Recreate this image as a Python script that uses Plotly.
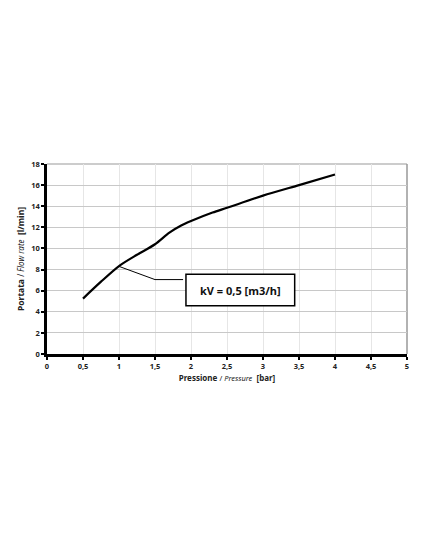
import plotly.graph_objects as go

pressure = [0.5, 0.75, 1.0, 1.25, 1.5, 1.7, 1.87, 2.0, 2.3, 2.5, 3.0, 3.5, 4.0]
flow = [5.25, 6.85, 8.33, 9.4, 10.4, 11.5, 12.2, 12.6, 13.4, 13.85, 15.0, 16.0, 17.0]

x_ticks = [0, 0.5, 1, 1.5, 2, 2.5, 3, 3.5, 4, 4.5, 5]
x_labels = ["0", "0,5", "1", "1,5", "2", "2,5", "3", "3,5", "4", "4,5", "5"]
y_ticks = [0, 2, 4, 6, 8, 10, 12, 14, 16, 18]

label_text = "kV = 0,5 [m3/h]"
box_x = [1.93, 3.44]
box_y = [4.57, 7.55]
leader_x = [1.0, 1.5, 1.89]
leader_y = [8.3, 7.05, 7.05]

FONT = "Noto Sans"

fig = go.Figure()
fig.add_trace(go.Scatter(x=pressure, y=flow, mode="lines",
                         line=dict(color="black", width=2.2, shape="spline", smoothing=0.8),
                         hoverinfo="skip", showlegend=False))
fig.add_trace(go.Scatter(x=leader_x, y=leader_y, mode="lines",
                         line=dict(color="black", width=1),
                         hoverinfo="skip", showlegend=False))

fig.add_shape(type="rect", xref="x", yref="y", x0=box_x[0], x1=box_x[1],
              y0=box_y[0], y1=box_y[1], line=dict(color="black", width=1.5),
              fillcolor="white")
fig.add_annotation(x=(box_x[0] + box_x[1]) / 2, y=(box_y[0] + box_y[1]) / 2,
                   xref="x", yref="y", text="<b>" + label_text + "</b>", showarrow=False,
                   font=dict(family=FONT, size=11, color="#111"))

fig.update_layout(
    width=427, height=529,
    margin=dict(l=39, r=28, t=156, b=183),
    paper_bgcolor="white", plot_bgcolor="white",
    font=dict(family=FONT, color="#222"),
    xaxis=dict(range=[0, 5], tickvals=x_ticks, ticktext=["<b>%s</b>" % t for t in x_labels],
               tickfont=dict(size=7.5, family=FONT, color="#222"),
               showgrid=True, gridcolor="#e6e6e6", gridwidth=1,
               showline=True, linecolor="black", linewidth=2.5,
               ticks="outside", ticklen=3, tickwidth=2, tickcolor="black",
               mirror=False, zeroline=False,
               title=dict(text="<b>Pressione</b> <span style='font-size:7.5px'>/ <i>Pressure</i></span>  <b>[bar]</b>",
                          font=dict(size=8, family=FONT, color="#222"), standoff=6)),
    yaxis=dict(range=[0, 18], tickvals=y_ticks, ticktext=["<b>%d</b>" % t for t in y_ticks],
               tickfont=dict(size=7.5, family=FONT, color="#222"),
               showgrid=True, gridcolor="#c8c8c8", gridwidth=1,
               showline=True, linecolor="black", linewidth=2.5,
               ticks="outside", ticklen=3, tickwidth=2, tickcolor="black",
               zeroline=False,
               title=dict(text="<b>Portata</b> <span style='font-size:8px'>/ <i>Flow rate</i></span>  <b>[l/min]</b>",
                          font=dict(size=8.5, family=FONT, color="#222"), standoff=6)),
)
# top/right gray border
fig.add_shape(type="line", xref="paper", yref="paper", x0=0, x1=1, y0=1, y1=1,
              line=dict(color="#999", width=1), layer="below")
fig.add_shape(type="line", xref="paper", yref="paper", x0=1, x1=1, y0=0, y1=1,
              line=dict(color="#999", width=1.5), layer="below")

fig.write_html("out.html")
